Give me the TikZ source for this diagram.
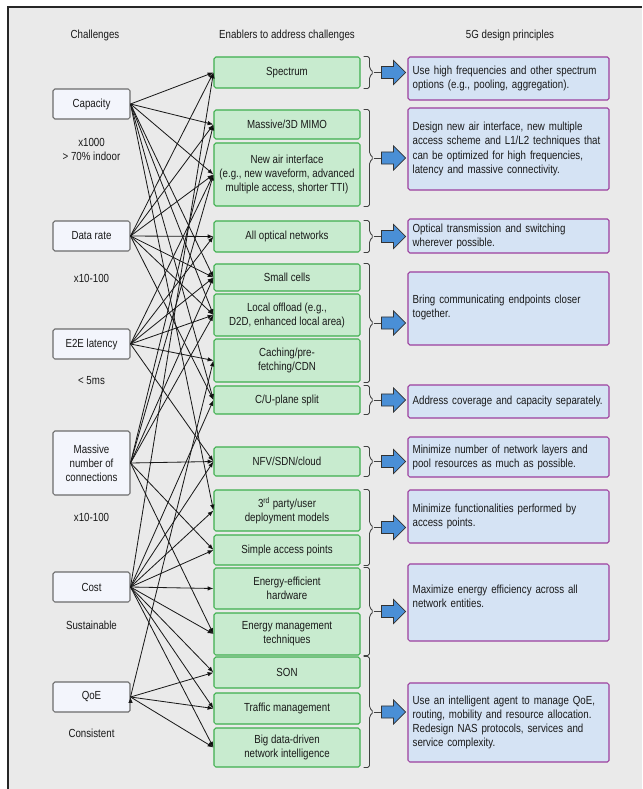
\documentclass[tikz,border=0pt]{standalone}
\usepackage{fontspec}
\setmainfont{Liberation Sans}[FakeStretch=0.83]
\usetikzlibrary{arrows.meta,positioning,shapes.arrows,calc}
\definecolor{bgGray}{HTML}{EAEAEA}
\definecolor{chalFill}{HTML}{F3F5FC}
\definecolor{chalLine}{HTML}{6B6B6B}
\definecolor{enFill}{HTML}{C8EBCF}
\definecolor{enLine}{HTML}{3FAF4E}
\definecolor{prFill}{HTML}{D5E3F4}
\definecolor{prLine}{HTML}{9C3F9E}
\definecolor{arrBlue}{HTML}{4A8FD6}
\tikzset{
  challenge/.style={draw=chalLine, fill=chalFill, rounded corners=1.5pt, line width=0.9pt,
    minimum width=2.31cm, minimum height=0.9cm, align=center, inner sep=1pt},
  enabler/.style={draw=enLine, fill=enFill, rounded corners=1.5pt, line width=0.9pt,
    minimum width=4.38cm, align=center, inner sep=1pt},
  principle/.style={draw=prLine, fill=prFill, rounded corners=1.5pt, line width=0.9pt,
    text width=5.75cm, inner xsep=0.14cm, inner ysep=0.1cm, align=left,
    execute at begin node={\hyphenpenalty=10000\exhyphenpenalty=10000}},
  note/.style={align=center},
  link/.style={->, draw=black!90, line width=0.7pt},
  bracket/.style={draw=black!75, line width=0.7pt, rounded corners=1.5pt},
  bigarrow/.style={single arrow, draw=black!80, fill=arrBlue, line width=0.6pt,
    minimum height=0.72cm, inner xsep=0pt, inner ysep=0.17cm, single arrow head extend=0.18cm}
}
\begin{document}
\begin{tikzpicture}[x=0.03cm, y=-0.03cm, font=\fontsize{10}{12}\selectfont, text=black!90,
    >={Latex[length=5pt,width=3.8pt]}]
\useasboundingbox (0,0) rectangle (642,789);
\fill[bgGray] (8,7) rectangle (642,789);
\draw[line width=1.2pt, black!85] (8,789) -- (8,7) -- (642,7);

% column heads
\node (hChal) at (95,35) {Challenges};
\node (hEnab) at (287,35) {Enablers to address challenges};
\node (hPrin) at (510,35) {5G design principles};

% challenges
\node[challenge] (cap) at (91.5,104) {Capacity};
\node[note] (capN) at (91.5,149) {x1000\\> 70\% indoor};
\node[challenge] (rate) at (91.5,236) {Data rate};
\node[note] (rateN) at (91.5,278) {x10-100};
\node[challenge] (lat) at (91.5,344) {E2E latency};
\node[note] (latN) at (91.5,381) {< 5ms};
\node[challenge, minimum height=1.92cm] (conn) at (91.5,463) {Massive\\number of\\connections};
\node[note] (connN) at (91.5,517) {x10-100};
\node[challenge] (cost) at (91.5,587) {Cost};
\node[note] (costN) at (91.5,625) {Sustainable};
\node[challenge] (qoe) at (91.5,697) {QoE};
\node[note] (qoeN) at (91.5,733) {Consistent};

% enablers
\node[enabler, minimum height=0.93cm] (spec) at (287,72.5) {Spectrum};
\node[enabler, minimum height=0.87cm] (mimo) at (287,124.5) {Massive/3D MIMO};
\node[enabler, minimum height=1.89cm] (nai) at (287,174.5) {New air interface\\(e.g., new waveform, advanced\\multiple access, shorter TTI)};
\node[enabler, minimum height=0.93cm] (optical) at (287,236.5) {All optical networks};
\node[enabler, minimum height=0.81cm] (small) at (287,277.5) {Small cells};
\node[enabler, minimum height=1.26cm] (offload) at (287,315) {Local offload (e.g.,\\D2D, enhanced local area)};
\node[enabler, minimum height=1.29cm] (caching) at (287,360.5) {Caching/pre-\\fetching/CDN};
\node[enabler, minimum height=0.84cm] (cu) at (287,400) {C/U-plane split};
\node[enabler, minimum height=0.87cm] (nfv) at (287,461.5) {NFV/SDN/cloud};
\node[enabler, minimum height=1.23cm] (third) at (287,510.5) {3\textsuperscript{rd} party/user\\deployment models};
\node[enabler, minimum height=0.9cm] (simple) at (287,550) {Simple access points};
\node[enabler, minimum height=1.23cm] (eehw) at (287,588.5) {Energy-efficient\\hardware};
\node[enabler, minimum height=1.26cm] (emgmt) at (287,634) {Energy management\\techniques};
\node[enabler, minimum height=0.93cm] (son) at (287,672.5) {SON};
\node[enabler, minimum height=0.93cm] (traffic) at (287,708.5) {Traffic management};
\node[enabler, minimum height=1.17cm] (bigdata) at (287,747.5) {Big data-driven\\network intelligence};

% design principles
\node[principle, minimum height=1.29cm] (p1) at (508.5,78.5) {Use high frequencies and other spectrum\\options (e.g., pooling, aggregation).};
\node[principle, minimum height=2.46cm] (p2) at (508.5,149) {Design new air interface, new multiple\\access scheme and L1/L2 techniques that\\can be optimized for high frequencies,\\latency and massive connectivity.};
\node[principle, minimum height=1.02cm] (p3) at (508.5,236) {Optical transmission and switching\\wherever possible.};
\node[principle, minimum height=2.19cm, text depth=16pt] (p4) at (508.5,308.5) {Bring communicating endpoints closer\\together.};
\node[principle, minimum height=0.99cm] (p5) at (508.5,401.5) {Address coverage and capacity separately.};
\node[principle, minimum height=1.2cm] (p6) at (508.5,457) {Minimize number of network layers and\\pool resources as much as possible.};
\node[principle, minimum height=1.59cm] (p7) at (508.5,516.5) {Minimize functionalities performed by\\access points.};
\node[principle, minimum height=2.31cm, text depth=22pt] (p8) at (508.5,602.5) {Maximize energy efficiency across all\\network entities.};
\node[principle, minimum height=2.37cm] (p9) at (508.5,722.5) {Use an intelligent agent to manage QoE,\\routing, mobility and resource allocation.\\Redesign NAS protocols, services and\\service complexity.};

% brackets and block arrows
\foreach \gA/\gB/\gP in {spec/spec/p1, mimo/nai/p2, optical/optical/p3, small/caching/p4,
    cu/cu/p5, nfv/nfv/p6, third/simple/p7, eehw/emgmt/p8, son/bigdata/p9}{
  \coordinate (t) at ($(\gA.north east)+(3,0)$);
  \coordinate (b) at ($(\gB.south east)+(3,0)$);
  \coordinate (m) at ($(t)!0.5!(b)$);
  \draw[bracket] (t) -- ($(t)+(6,0)$) -- ($(m)+(6,-4)$) -- ($(m)+(10,0)$)
    -- ($(m)+(6,4)$) -- ($(b)+(6,0)$) -- (b);
  \node[bigarrow] (arr\gP) at ($(m)+(27,0)$) {};
  \draw[black!75, line width=0.7pt] ($(m)+(10,0)$) -- (arr\gP.west);
}

% challenge -> enabler links
\path[link]
  (cap.east) edge (spec.west) edge (mimo.west) edge (nai.west) edge (small.west)
             edge (offload.west) edge (cu.west) edge (third.west)
  (rate.east) edge (spec.west) edge (mimo.west) edge (nai.west) edge (optical.west)
              edge (small.west) edge (offload.west) edge (cu.west)
  (lat.east) edge (nai.west) edge (optical.west) edge (small.west)
             edge (offload.west) edge (caching.west) edge (nfv.west)
  (conn.east) edge (mimo.west) edge (nai.west) edge (small.west) edge (offload.west)
              edge (nfv.west) edge (simple.west) edge (emgmt.west)
  (cost.east) edge (spec.west) edge (cu.west) edge (nfv.west) edge (third.west)
              edge (simple.west) edge (eehw.west) edge (emgmt.west)
              edge (son.west) edge (traffic.west) edge (bigdata.west)
  (qoe.east) edge (caching.west) edge (son.west) edge (traffic.west) edge (bigdata.west);
\end{tikzpicture}
\end{document}
